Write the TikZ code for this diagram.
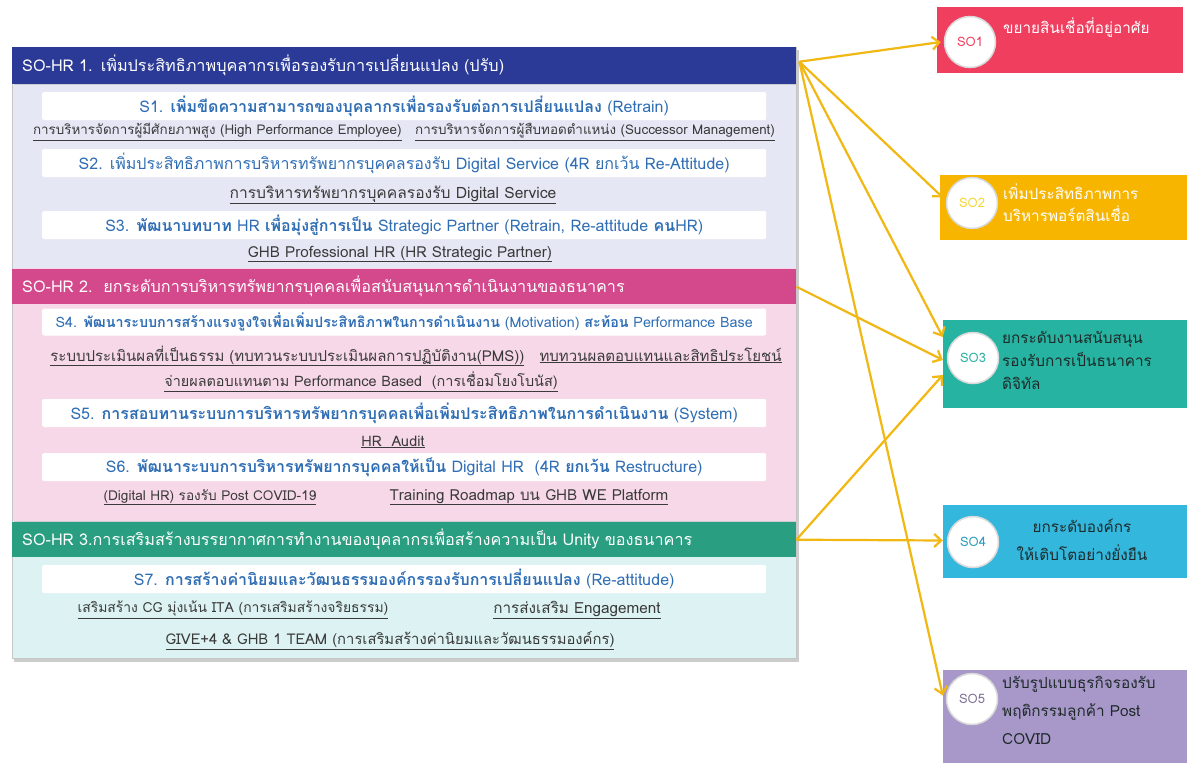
\documentclass[tikz,border=0pt]{standalone}
\usepackage{fontspec}
\setmainfont[Script=Thai]{Loma}
\usetikzlibrary{arrows.meta,calc}
\definecolor{hA}{HTML}{2B3A96}
\definecolor{bgA}{HTML}{E6E7F5}
\definecolor{hB}{HTML}{D4488C}
\definecolor{bgB}{HTML}{F7D8E8}
\definecolor{hC}{HTML}{2A9E80}
\definecolor{bgC}{HTML}{DDF3F3}
\definecolor{sblue}{HTML}{2F6EB5}
\definecolor{ulgray}{HTML}{3A3A3A}
\definecolor{soA}{HTML}{F03E5F}
\definecolor{soB}{HTML}{F7B500}
\definecolor{soC}{HTML}{27B3A1}
\definecolor{soD}{HTML}{33B7DD}
\definecolor{soE}{HTML}{A898C9}
\definecolor{arrc}{HTML}{F1B712}
\definecolor{sotxt}{HTML}{1E2A2A}
\newcommand{\tb}[1]{{\bfseries #1}}
\newcommand{\ul}[1]{\underline{#1}}
\begin{document}
\begin{tikzpicture}[x=1pt,y=-1pt,
  hdr/.style={anchor=north west, minimum width=784, minimum height=37, inner sep=0pt, text=white,
    font=\fontsize{16.2}{18}\selectfont, align=left, text width=764},
  sbox/.style={fill=white, rounded corners=2pt, anchor=west, minimum width=724, minimum height=28,
    inner sep=0pt, text=sblue, font=\fontsize{16}{18}\selectfont},
  ulline/.style={text=ulgray, font=\fontsize{#1}{#1}\selectfont, inner sep=0pt},
  sobox/.style={minimum height=66, inner sep=0pt},
  socirc/.style={circle, fill=white, draw=gray!30, line width=1.5pt, minimum size=51, inner sep=0pt,
    font=\fontsize{13}{14}\selectfont},
  sotext/.style={anchor=west, align=left, inner sep=0pt, font=\fontsize{15.3}{#1}\selectfont},
  sotext/.default=23,
  arr/.style={draw=arrc, line width=2.2pt, -{Straight Barb[length=7pt,width=13pt]}}
]
\useasboundingbox (0,0) rectangle (1187,763);
\fill[white] (0,0) rectangle (1187,763);
% panel shadow and backgrounds
\fill[gray!40] (14,50) rectangle (799,662);
\fill[bgA] (12,85) rectangle (796,268);
\fill[bgB] (12,268) rectangle (796,521);
\fill[bgC] (12,557) rectangle (796,658);
\draw[gray!45, line width=0.6pt] (12,47) rectangle (796,658);
% headers
\node[hdr, fill=hA] (h1) at (12,47) {SO-HR 1. เพิ่มประสิทธิภาพบุคลากรเพื่อรองรับการเปลี่ยนแปลง (ปรับ)};
\node[hdr, fill=hB, minimum height=35] (h2) at (12,269) {SO-HR 2.\ \ ยกระดับการบริหารทรัพยากรบุคคลเพื่อสนับสนุนการดำเนินงานของธนาคาร};
\node[hdr, fill=hC, minimum height=35] (h3) at (12,522) {SO-HR 3.การเสริมสร้างบรรยากาศการทำงานของบุคลากรเพื่อสร้างความเป็น Unity ของธนาคาร};
% panel 1
\node[sbox] (s1) at (42,106) {S1. \tb{เพิ่มขีดความสามารถของบุคลากรเพื่อรองรับต่อการเปลี่ยนแปลง} (Retrain)};
\node[ulline=13.4] (l1) at (404,132) {\ul{การบริหารจัดการผู้มีศักยภาพสูง (High Performance Employee)}\ \ \ \ul{การบริหารจัดการผู้สืบทอดตำแหน่ง (Successor Management)}};
\node[sbox] (s2) at (42,163) {S2. เพิ่มประสิทธิภาพการบริหารทรัพยากรบุคคลรองรับ Digital Service (4R ยกเว้น Re-Attitude)};
\node[ulline=15.6] (l2) at (393,195) {\ul{การบริหารทรัพยากรบุคคลรองรับ Digital Service}};
\node[ulline=15.2] (l3) at (400,254) {\ul{GHB Professional HR (HR Strategic Partner)}};
\node[sbox] (s3) at (42,225) {S3. \tb{พัฒนาบทบาท} HR \tb{เพื่อมุ่งสู่การเป็น} Strategic Partner (Retrain, Re-attitude \tb{คน}HR)};
% panel 2
\node[sbox, minimum height=27, font=\fontsize{14.3}{16}\selectfont] (s4) at (42,322) {S4. \tb{พัฒนาระบบการสร้างแรงจูงใจเพื่อเพิ่มประสิทธิภาพในการดำเนินงาน} (Motivation) \tb{สะท้อน} Performance Base};
\node[ulline=15] (l4a) at (416,356) {\ul{ระบบประเมินผลที่เป็นธรรม (ทบทวนระบบประเมินผลการปฏิบัติงาน(PMS))}\ \ \ \ul{ทบทวนผลตอบแทนและสิทธิประโยชน์}};
\node[ulline=14.4] (l4b) at (361,382) {\ul{จ่ายผลตอบแทนตาม Performance Based\ \ (การเชื่อมโยงโบนัส)}};
\node[sbox] (s5) at (42,413) {S5. \tb{การสอบทานระบบการบริหารทรัพยากรบุคคลเพื่อเพิ่มประสิทธิภาพในการดำเนินงาน} (System)};
\node[ulline=14.5] (l5) at (393,442) {\ul{HR\ \ Audit}};
\node[sbox] (s6) at (42,467) {S6. \tb{พัฒนาระบบการบริหารทรัพยากรบุคคลให้เป็น} Digital HR\ \ (4R \tb{ยกเว้น} Restructure)};
\node[ulline=13.6] (l6a) at (210,497) {\ul{(Digital HR) รองรับ Post COVID-19}};
\node[ulline=15.2] (l6b) at (529,497) {\ul{Training Roadmap บน GHB WE Platform}};
% panel 3
\node[sbox] (s7) at (42,579) {S7. \tb{การสร้างค่านิยมและวัฒนธรรมองค์กรรองรับการเปลี่ยนแปลง} (Re-attitude)};
\node[ulline=13.9] (l7a) at (233,610) {\ul{เสริมสร้าง CG มุ่งเน้น ITA (การเสริมสร้างจริยธรรม)}};
\node[ulline=15.3] (l7b) at (577,610) {\ul{การส่งเสริม Engagement}};
\node[ulline=14.8] (l7c) at (390,641) {\ul{GIVE+4 \& GHB 1 TEAM (การเสริมสร้างค่านิยมและวัฒนธรรมองค์กร)}};
% SO boxes
\node[sobox, fill=soA, minimum width=246, minimum height=66] (so1) at (1060,40) {};
\node[sobox, fill=soB, minimum width=247, minimum height=65] (so2) at (1063.5,207.5) {};
\node[sobox, fill=soC, minimum width=244, minimum height=88] (so3) at (1065,364) {};
\node[sobox, fill=soD, minimum width=244, minimum height=73] (so4) at (1065,541.5) {};
\node[sobox, fill=soE, minimum width=244, minimum height=93] (so5) at (1065,716.5) {};
\node[socirc, text=soA] (c1) at (970,42) {SO1};
\node[socirc, text=soB!70!yellow!80!white] (c2) at (972,203) {SO2};
\node[socirc, text=soC] (c3) at (973,358) {SO3};
\node[socirc, text=soD!85!black] (c4) at (973,542) {SO4};
\node[socirc, text=soE!75!black] (c5) at (972,699) {SO5};
\node[sotext, text=white] (t1) at (1003,28) {ขยายสินเชื่อที่อยู่อาศัย};
\node[sotext=22, text=white, anchor=north west] (t2) at (1003,184) {เพิ่มประสิทธิภาพการ\\บริหารพอร์ตสินเชื่อ};
\node[sotext, text=sotxt, anchor=north west] (t3) at (1002,331) {ยกระดับงานสนับสนุน\\รองรับการเป็นธนาคาร\\ดิจิทัล};
\node[sotext=28, text=sotxt, anchor=north, align=center] (t4) at (1082,519) {ยกระดับองค์กร\\ให้เติบโตอย่างยั่งยืน};
\node[sotext=28, text=sotxt, anchor=north west] (t5) at (1002,676) {ปรับรูปแบบธุรกิจรองรับ\\พฤติกรรมลูกค้า Post\\COVID};
% arrows
\coordinate (o1) at ($(h1.east)+(3,-4)$);
\coordinate (o2) at ($(h2.east)+(0,0)$);
\coordinate (o3) at ($(h3.east)+(0,0)$);
\draw[arr] (o1) -- ($(so1.west)+(4,2)$);
\draw[arr] (o1) -- ($(so2.west)+(3,-10)$);
\draw[arr] (o1) -- ($(so3.west)+(0,-27)$);
\draw[arr] (o1) -- ($(so5.west)+(0,-21)$);
\draw[arr] (o2) -- ($(so3.west)+(0,-4)$);
\draw[arr] (o3) -- ($(so3.west)+(0,11)$);
\draw[arr] (o3) -- ($(so4.west)+(0,-1)$);
\end{tikzpicture}
\end{document}
